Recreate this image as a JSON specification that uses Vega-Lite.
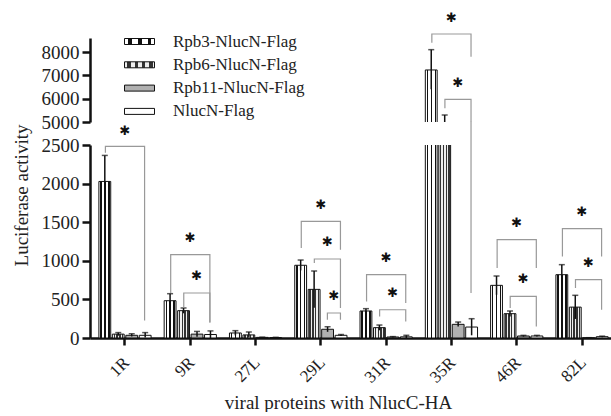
{
  "$schema": "https://vega.github.io/schema/vega-lite/v6.json",
  "background": "white",
  "padding": {"left": 12, "top": 12, "right": 0, "bottom": 0},
  "bounds": "flush",
  "spacing": 23,
  "config": {
    "font": "Liberation Serif",
    "view": {"stroke": null},
    "axis": {
      "labelFont": "Liberation Serif", "titleFont": "Liberation Serif",
      "labelColor": "#222", "titleColor": "#222",
      "domainColor": "#111", "tickColor": "#111",
      "domainWidth": 2.5, "tickWidth": 2.5, "tickSize": 8,
      "grid": false, "labelFontSize": 19, "titleFontSize": 19,
      "titleFontWeight": "normal", "labelPadding": 3
    }
  },
  "datasets": {
    "bars": [
      {"cat": "1R", "series": "Rpb3-NlucN-Flag", "value": 2028, "lo": 1690, "hi": 2365},
      {"cat": "1R", "series": "Rpb6-NlucN-Flag", "value": 50, "lo": 30, "hi": 70},
      {"cat": "1R", "series": "Rpb11-NlucN-Flag", "value": 35, "lo": 20, "hi": 55},
      {"cat": "1R", "series": "NlucN-Flag", "value": 35, "lo": 5, "hi": 70},
      {"cat": "9R", "series": "Rpb3-NlucN-Flag", "value": 483, "lo": 392, "hi": 574},
      {"cat": "9R", "series": "Rpb6-NlucN-Flag", "value": 354, "lo": 320, "hi": 389},
      {"cat": "9R", "series": "Rpb11-NlucN-Flag", "value": 50, "lo": 15, "hi": 85},
      {"cat": "9R", "series": "NlucN-Flag", "value": 45, "lo": 0, "hi": 92},
      {"cat": "27L", "series": "Rpb3-NlucN-Flag", "value": 65, "lo": 35, "hi": 95},
      {"cat": "27L", "series": "Rpb6-NlucN-Flag", "value": 40, "lo": 5, "hi": 78},
      {"cat": "27L", "series": "Rpb11-NlucN-Flag", "value": 8, "lo": 5, "hi": 11},
      {"cat": "27L", "series": "NlucN-Flag", "value": 6, "lo": 3, "hi": 9},
      {"cat": "29L", "series": "Rpb3-NlucN-Flag", "value": 942, "lo": 875, "hi": 1010},
      {"cat": "29L", "series": "Rpb6-NlucN-Flag", "value": 630, "lo": 392, "hi": 868},
      {"cat": "29L", "series": "Rpb11-NlucN-Flag", "value": 113, "lo": 80, "hi": 146},
      {"cat": "29L", "series": "NlucN-Flag", "value": 35, "lo": 25, "hi": 45},
      {"cat": "31R", "series": "Rpb3-NlucN-Flag", "value": 350, "lo": 320, "hi": 380},
      {"cat": "31R", "series": "Rpb6-NlucN-Flag", "value": 134, "lo": 100, "hi": 168},
      {"cat": "31R", "series": "Rpb11-NlucN-Flag", "value": 13, "lo": 8, "hi": 18},
      {"cat": "31R", "series": "NlucN-Flag", "value": 15, "lo": 0, "hi": 35},
      {"cat": "35R", "series": "Rpb3-NlucN-Flag", "value": 7230, "lo": 6400, "hi": 8100},
      {"cat": "35R", "series": "Rpb6-NlucN-Flag", "value": 4950, "lo": 4650, "hi": 5300},
      {"cat": "35R", "series": "Rpb11-NlucN-Flag", "value": 177, "lo": 150, "hi": 207},
      {"cat": "35R", "series": "NlucN-Flag", "value": 142, "lo": 35, "hi": 250},
      {"cat": "46R", "series": "Rpb3-NlucN-Flag", "value": 682, "lo": 560, "hi": 803},
      {"cat": "46R", "series": "Rpb6-NlucN-Flag", "value": 315, "lo": 280, "hi": 350},
      {"cat": "46R", "series": "Rpb11-NlucN-Flag", "value": 26, "lo": 18, "hi": 34},
      {"cat": "46R", "series": "NlucN-Flag", "value": 26, "lo": 18, "hi": 34},
      {"cat": "82L", "series": "Rpb3-NlucN-Flag", "value": 820, "lo": 690, "hi": 950},
      {"cat": "82L", "series": "Rpb6-NlucN-Flag", "value": 400, "lo": 247, "hi": 553},
      {"cat": "82L", "series": "Rpb11-NlucN-Flag", "value": 2, "lo": 0, "hi": 4},
      {"cat": "82L", "series": "NlucN-Flag", "value": 17, "lo": 10, "hi": 24}
    ],
    "brk_upper": [
      {"bid": "35R-a", "cat": "35R", "ord": 0, "slot": 0, "y": 8400},
      {"bid": "35R-a", "cat": "35R", "ord": 1, "slot": 0, "y": 8772},
      {"bid": "35R-a", "cat": "35R", "ord": 2, "slot": 3, "y": 8772},
      {"bid": "35R-a", "cat": "35R", "ord": 3, "slot": 3, "y": 7800},
      {"bid": "35R-b", "cat": "35R", "ord": 0, "slot": 1, "y": 5584},
      {"bid": "35R-b", "cat": "35R", "ord": 1, "slot": 1, "y": 5970},
      {"bid": "35R-b", "cat": "35R", "ord": 2, "slot": 3, "y": 5970},
      {"bid": "35R-b", "cat": "35R", "ord": 3, "slot": 3, "y": 5000}
    ],
    "star_upper": [
      {"cat": "35R", "slot": 1.5, "y": 9446},
      {"cat": "35R", "slot": 2, "y": 6657}
    ],
    "brk_lower": [
      {"bid": "1R-a", "cat": "1R", "ord": 0, "slot": 0, "y": 2400},
      {"bid": "1R-a", "cat": "1R", "ord": 1, "slot": 0, "y": 2482},
      {"bid": "1R-a", "cat": "1R", "ord": 2, "slot": 3, "y": 2482},
      {"bid": "1R-a", "cat": "1R", "ord": 3, "slot": 3, "y": 228},
      {"bid": "9R-a", "cat": "9R", "ord": 0, "slot": 0, "y": 583},
      {"bid": "9R-a", "cat": "9R", "ord": 1, "slot": 0, "y": 1079},
      {"bid": "9R-a", "cat": "9R", "ord": 2, "slot": 3, "y": 1079},
      {"bid": "9R-a", "cat": "9R", "ord": 3, "slot": 3, "y": 202},
      {"bid": "9R-b", "cat": "9R", "ord": 0, "slot": 1, "y": 392},
      {"bid": "9R-b", "cat": "9R", "ord": 1, "slot": 1, "y": 583},
      {"bid": "9R-b", "cat": "9R", "ord": 2, "slot": 3, "y": 583},
      {"bid": "9R-b", "cat": "9R", "ord": 3, "slot": 3, "y": 202},
      {"bid": "29L-a", "cat": "29L", "ord": 0, "slot": 0, "y": 1166},
      {"bid": "29L-a", "cat": "29L", "ord": 1, "slot": 0, "y": 1510},
      {"bid": "29L-a", "cat": "29L", "ord": 2, "slot": 3, "y": 1510},
      {"bid": "29L-a", "cat": "29L", "ord": 3, "slot": 3, "y": 1144},
      {"bid": "29L-b", "cat": "29L", "ord": 0, "slot": 1, "y": 972},
      {"bid": "29L-b", "cat": "29L", "ord": 1, "slot": 1, "y": 1023},
      {"bid": "29L-b", "cat": "29L", "ord": 2, "slot": 3, "y": 1023},
      {"bid": "29L-b", "cat": "29L", "ord": 3, "slot": 3, "y": 389},
      {"bid": "29L-c", "cat": "29L", "ord": 0, "slot": 2, "y": 237},
      {"bid": "29L-c", "cat": "29L", "ord": 1, "slot": 2, "y": 324},
      {"bid": "29L-c", "cat": "29L", "ord": 2, "slot": 3, "y": 324},
      {"bid": "29L-c", "cat": "29L", "ord": 3, "slot": 3, "y": 237},
      {"bid": "31R-a", "cat": "31R", "ord": 0, "slot": 0, "y": 474},
      {"bid": "31R-a", "cat": "31R", "ord": 1, "slot": 0, "y": 820},
      {"bid": "31R-a", "cat": "31R", "ord": 2, "slot": 3, "y": 820},
      {"bid": "31R-a", "cat": "31R", "ord": 3, "slot": 3, "y": 453},
      {"bid": "31R-b", "cat": "31R", "ord": 0, "slot": 1, "y": 280},
      {"bid": "31R-b", "cat": "31R", "ord": 1, "slot": 1, "y": 366},
      {"bid": "31R-b", "cat": "31R", "ord": 2, "slot": 3, "y": 366},
      {"bid": "31R-b", "cat": "31R", "ord": 3, "slot": 3, "y": 215},
      {"bid": "35R-b2", "cat": "35R", "ord": 0, "slot": 3, "y": 2800},
      {"bid": "35R-b2", "cat": "35R", "ord": 1, "slot": 3, "y": 583},
      {"bid": "46R-a", "cat": "46R", "ord": 0, "slot": 0, "y": 907},
      {"bid": "46R-a", "cat": "46R", "ord": 1, "slot": 0, "y": 1273},
      {"bid": "46R-a", "cat": "46R", "ord": 2, "slot": 3, "y": 1273},
      {"bid": "46R-a", "cat": "46R", "ord": 3, "slot": 3, "y": 907},
      {"bid": "46R-b", "cat": "46R", "ord": 0, "slot": 1, "y": 389},
      {"bid": "46R-b", "cat": "46R", "ord": 1, "slot": 1, "y": 539},
      {"bid": "46R-b", "cat": "46R", "ord": 2, "slot": 3, "y": 539},
      {"bid": "46R-b", "cat": "46R", "ord": 3, "slot": 3, "y": 150},
      {"bid": "82L-a", "cat": "82L", "ord": 0, "slot": 0, "y": 1057},
      {"bid": "82L-a", "cat": "82L", "ord": 1, "slot": 0, "y": 1416},
      {"bid": "82L-a", "cat": "82L", "ord": 2, "slot": 3, "y": 1416},
      {"bid": "82L-a", "cat": "82L", "ord": 3, "slot": 3, "y": 1057},
      {"bid": "82L-b", "cat": "82L", "ord": 0, "slot": 1, "y": 648},
      {"bid": "82L-b", "cat": "82L", "ord": 1, "slot": 1, "y": 755},
      {"bid": "82L-b", "cat": "82L", "ord": 2, "slot": 3, "y": 755},
      {"bid": "82L-b", "cat": "82L", "ord": 3, "slot": 3, "y": 367}
    ],
    "star_lower": [
      {"cat": "1R", "slot": 1.5, "y": 2685},
      {"cat": "9R", "slot": 1.5, "y": 1295},
      {"cat": "9R", "slot": 2, "y": 798},
      {"cat": "29L", "slot": 1.5, "y": 1727},
      {"cat": "29L", "slot": 2, "y": 1238},
      {"cat": "29L", "slot": 2.5, "y": 539},
      {"cat": "31R", "slot": 1.5, "y": 1036},
      {"cat": "31R", "slot": 2, "y": 583},
      {"cat": "46R", "slot": 1.5, "y": 1490},
      {"cat": "46R", "slot": 2, "y": 764},
      {"cat": "82L", "slot": 1.5, "y": 1632},
      {"cat": "82L", "slot": 2, "y": 971}
    ]
  },
  "vconcat": [
    {
      "width": 527,
      "height": 84,
      "encoding": {
        "x": {"field": "cat", "type": "nominal", "scale": {"domain": ["1R", "9R", "27L", "29L", "31R", "35R", "46R", "82L"], "paddingInner": 0.2, "paddingOuter": 0.136}, "axis": null}
      },
      "layer": [
        {
          "data": {"name": "bars"},
          "mark": {"type": "bar", "clip": true, "strokeWidth": 1, "stroke": "#111111"},
          "encoding": {
            "xOffset": {"field": "series", "type": "nominal", "scale": {"domain": ["Rpb3-NlucN-Flag", "Rpb6-NlucN-Flag", "Rpb11-NlucN-Flag", "NlucN-Flag"], "paddingInner": 0.12}},
            "y": {"field": "value", "type": "quantitative", "scale": {"domain": [5000, 8600], "nice": false, "zero": false}, "axis": {"values": [5000, 6000, 7000, 8000], "title": null, "format": "d", "labelFont": "Liberation Serif"}},
            "fill": {
              "field": "series", "type": "nominal",
              "scale": {
                "domain": ["Rpb3-NlucN-Flag", "Rpb6-NlucN-Flag", "Rpb11-NlucN-Flag", "NlucN-Flag"],
                "range": [
                  {"expr": "{'gradient':'linear','x1':0,'y1':0,'x2':1,'y2':0,'stops':[{'offset':0,'color':'#fff'},{'offset':0.12,'color':'#fff'},{'offset':0.12,'color':'#111'},{'offset':0.24,'color':'#111'},{'offset':0.24,'color':'#fff'},{'offset':0.45,'color':'#fff'},{'offset':0.45,'color':'#111'},{'offset':0.57,'color':'#111'},{'offset':0.57,'color':'#fff'},{'offset':0.78,'color':'#fff'},{'offset':0.78,'color':'#111'},{'offset':0.9,'color':'#111'},{'offset':0.9,'color':'#fff'},{'offset':1,'color':'#fff'}]}"},
                  {"expr": "{'gradient':'linear','x1':0,'y1':0,'x2':1,'y2':0,'stops':[{'offset':0,'color':'#eee'},{'offset':0.1,'color':'#eee'},{'offset':0.1,'color':'#333'},{'offset':0.22,'color':'#333'},{'offset':0.22,'color':'#eee'},{'offset':0.34,'color':'#eee'},{'offset':0.34,'color':'#333'},{'offset':0.46,'color':'#333'},{'offset':0.46,'color':'#eee'},{'offset':0.58,'color':'#eee'},{'offset':0.58,'color':'#333'},{'offset':0.7,'color':'#333'},{'offset':0.7,'color':'#eee'},{'offset':0.82,'color':'#eee'},{'offset':0.82,'color':'#333'},{'offset':0.94,'color':'#333'},{'offset':0.94,'color':'#eee'},{'offset':1,'color':'#eee'}]}"},
                  "#b0b0b0",
                  "#ffffff"
                ]
              },
              "legend": {
                "orient": "none", "legendX": 41, "legendY": -5, "title": null, "padding": 0,
                "symbolType": "M-2,-0.4H2V0.4H-2Z", "symbolSize": 225, "symbolStrokeWidth": 1, "symbolStrokeColor": "#111111", "symbolOpacity": 1,
                "labelFont": "Liberation Serif", "labelFontSize": 17, "labelColor": "#222", "labelOffset": 25, "rowPadding": 5.3
              }
            }
          }
        },
        {
          "data": {"name": "bars"},
          "mark": {"type": "rule", "clip": true, "color": "#111111", "strokeWidth": 1.5},
          "encoding": {
            "xOffset": {"field": "series", "type": "nominal", "scale": {"domain": ["Rpb3-NlucN-Flag", "Rpb6-NlucN-Flag", "Rpb11-NlucN-Flag", "NlucN-Flag"], "paddingInner": 0.12}},
            "y": {"field": "lo", "type": "quantitative", "scale": {"domain": [5000, 8600], "nice": false, "zero": false}, "axis": {"values": [5000, 6000, 7000, 8000], "title": null, "format": "d", "labelFont": "Liberation Serif"}},
            "y2": {"field": "hi"}
          }
        },
        {
          "data": {"name": "bars"},
          "mark": {"type": "tick", "orient": "horizontal", "clip": true, "color": "#111111", "size": 6, "thickness": 1.5},
          "encoding": {
            "xOffset": {"field": "series", "type": "nominal", "scale": {"domain": ["Rpb3-NlucN-Flag", "Rpb6-NlucN-Flag", "Rpb11-NlucN-Flag", "NlucN-Flag"], "paddingInner": 0.12}},
            "y": {"field": "hi", "type": "quantitative", "scale": {"domain": [5000, 8600], "nice": false, "zero": false}, "axis": {"values": [5000, 6000, 7000, 8000], "title": null, "format": "d", "labelFont": "Liberation Serif"}}
          }
        },
        {
          "data": {"name": "brk_upper"},
          "mark": {"type": "line", "color": "#999999", "strokeWidth": 1.2},
          "encoding": {
            "xOffset": {"field": "slot", "type": "quantitative", "scale": {"domain": [-0.5, 3.5], "range": [0, 52.24]}},
            "y": {"field": "y", "type": "quantitative", "scale": {"domain": [5000, 8600], "nice": false, "zero": false}, "axis": {"values": [5000, 6000, 7000, 8000], "title": null, "format": "d", "labelFont": "Liberation Serif"}},
            "detail": {"field": "bid"},
            "order": {"field": "ord"}
          }
        },
        {
          "data": {"name": "star_upper"},
          "mark": {"type": "text", "text": "✱", "font": "DejaVu Sans", "fontSize": 13, "color": "#111111", "baseline": "middle"},
          "encoding": {
            "xOffset": {"field": "slot", "type": "quantitative", "scale": {"domain": [-0.5, 3.5], "range": [0, 52.24]}},
            "y": {"field": "y", "type": "quantitative", "scale": {"domain": [5000, 8600], "nice": false, "zero": false}, "axis": {"values": [5000, 6000, 7000, 8000], "title": null, "format": "d", "labelFont": "Liberation Serif"}}
          }
        }
      ],
      "resolve": {"scale": {"xOffset": "independent"}}
    },
    {
      "width": 527,
      "height": 193,
      "encoding": {
        "x": {"field": "cat", "type": "nominal", "scale": {"domain": ["1R", "9R", "27L", "29L", "31R", "35R", "46R", "82L"], "paddingInner": 0.2, "paddingOuter": 0.136},
          "axis": {"labelAngle": -45, "labelFontSize": 17, "labelFont": "Liberation Serif", "labelOffset": -4, "tickSize": 7, "labelPadding": 9, "title": "viral proteins with NlucC-HA", "titleFontSize": 19, "titleX": 248, "titleY": 70, "titleBaseline": "alphabetic"}}
      },
      "layer": [
        {
          "data": {"name": "bars"},
          "mark": {"type": "bar", "clip": true, "strokeWidth": 1, "stroke": "#111111"},
          "encoding": {
            "xOffset": {"field": "series", "type": "nominal", "scale": {"domain": ["Rpb3-NlucN-Flag", "Rpb6-NlucN-Flag", "Rpb11-NlucN-Flag", "NlucN-Flag"], "paddingInner": 0.12}},
            "y": {"field": "value", "type": "quantitative", "scale": {"domain": [0, 2500], "nice": false}, "axis": {"values": [0, 500, 1000, 1500, 2000, 2500], "format": "d", "labelFont": "Liberation Serif", "title": "Luciferase activity", "titleY": 50, "titlePadding": 10}},
            "fill": {
              "field": "series", "type": "nominal", "legend": null,
              "scale": {
                "domain": ["Rpb3-NlucN-Flag", "Rpb6-NlucN-Flag", "Rpb11-NlucN-Flag", "NlucN-Flag"],
                "range": [
                  {"expr": "{'gradient':'linear','x1':0,'y1':0,'x2':1,'y2':0,'stops':[{'offset':0,'color':'#fff'},{'offset':0.12,'color':'#fff'},{'offset':0.12,'color':'#111'},{'offset':0.24,'color':'#111'},{'offset':0.24,'color':'#fff'},{'offset':0.45,'color':'#fff'},{'offset':0.45,'color':'#111'},{'offset':0.57,'color':'#111'},{'offset':0.57,'color':'#fff'},{'offset':0.78,'color':'#fff'},{'offset':0.78,'color':'#111'},{'offset':0.9,'color':'#111'},{'offset':0.9,'color':'#fff'},{'offset':1,'color':'#fff'}]}"},
                  {"expr": "{'gradient':'linear','x1':0,'y1':0,'x2':1,'y2':0,'stops':[{'offset':0,'color':'#eee'},{'offset':0.1,'color':'#eee'},{'offset':0.1,'color':'#333'},{'offset':0.22,'color':'#333'},{'offset':0.22,'color':'#eee'},{'offset':0.34,'color':'#eee'},{'offset':0.34,'color':'#333'},{'offset':0.46,'color':'#333'},{'offset':0.46,'color':'#eee'},{'offset':0.58,'color':'#eee'},{'offset':0.58,'color':'#333'},{'offset':0.7,'color':'#333'},{'offset':0.7,'color':'#eee'},{'offset':0.82,'color':'#eee'},{'offset':0.82,'color':'#333'},{'offset':0.94,'color':'#333'},{'offset':0.94,'color':'#eee'},{'offset':1,'color':'#eee'}]}"},
                  "#b0b0b0",
                  "#ffffff"
                ]
              }
            }
          }
        },
        {
          "data": {"name": "bars"},
          "mark": {"type": "rule", "clip": true, "color": "#111111", "strokeWidth": 1.5},
          "encoding": {
            "xOffset": {"field": "series", "type": "nominal", "scale": {"domain": ["Rpb3-NlucN-Flag", "Rpb6-NlucN-Flag", "Rpb11-NlucN-Flag", "NlucN-Flag"], "paddingInner": 0.12}},
            "y": {"field": "lo", "type": "quantitative", "scale": {"domain": [0, 2500], "nice": false}, "axis": {"values": [0, 500, 1000, 1500, 2000, 2500], "format": "d", "labelFont": "Liberation Serif", "title": "Luciferase activity", "titleY": 50, "titlePadding": 10}},
            "y2": {"field": "hi"}
          }
        },
        {
          "data": {"name": "bars"},
          "mark": {"type": "tick", "orient": "horizontal", "clip": true, "color": "#111111", "size": 6, "thickness": 1.5},
          "encoding": {
            "xOffset": {"field": "series", "type": "nominal", "scale": {"domain": ["Rpb3-NlucN-Flag", "Rpb6-NlucN-Flag", "Rpb11-NlucN-Flag", "NlucN-Flag"], "paddingInner": 0.12}},
            "y": {"field": "hi", "type": "quantitative", "scale": {"domain": [0, 2500], "nice": false}, "axis": {"values": [0, 500, 1000, 1500, 2000, 2500], "format": "d", "labelFont": "Liberation Serif", "title": "Luciferase activity", "titleY": 50, "titlePadding": 10}}
          }
        },
        {
          "data": {"name": "brk_lower"},
          "mark": {"type": "line", "color": "#999999", "strokeWidth": 1.2},
          "encoding": {
            "xOffset": {"field": "slot", "type": "quantitative", "scale": {"domain": [-0.5, 3.5], "range": [0, 52.24]}},
            "y": {"field": "y", "type": "quantitative", "scale": {"domain": [0, 2500], "nice": false}, "axis": {"values": [0, 500, 1000, 1500, 2000, 2500], "format": "d", "labelFont": "Liberation Serif", "title": "Luciferase activity", "titleY": 50, "titlePadding": 10}},
            "detail": {"field": "bid"},
            "order": {"field": "ord"}
          }
        },
        {
          "data": {"name": "star_lower"},
          "mark": {"type": "text", "text": "✱", "font": "DejaVu Sans", "fontSize": 13, "color": "#111111", "baseline": "middle"},
          "encoding": {
            "xOffset": {"field": "slot", "type": "quantitative", "scale": {"domain": [-0.5, 3.5], "range": [0, 52.24]}},
            "y": {"field": "y", "type": "quantitative", "scale": {"domain": [0, 2500], "nice": false}, "axis": {"values": [0, 500, 1000, 1500, 2000, 2500], "format": "d", "labelFont": "Liberation Serif", "title": "Luciferase activity", "titleY": 50, "titlePadding": 10}}
          }
        }
      ],
      "resolve": {"scale": {"xOffset": "independent"}}
    }
  ],
  "resolve": {"scale": {"y": "independent", "fill": "independent"}, "legend": {"fill": "independent"}}
}
